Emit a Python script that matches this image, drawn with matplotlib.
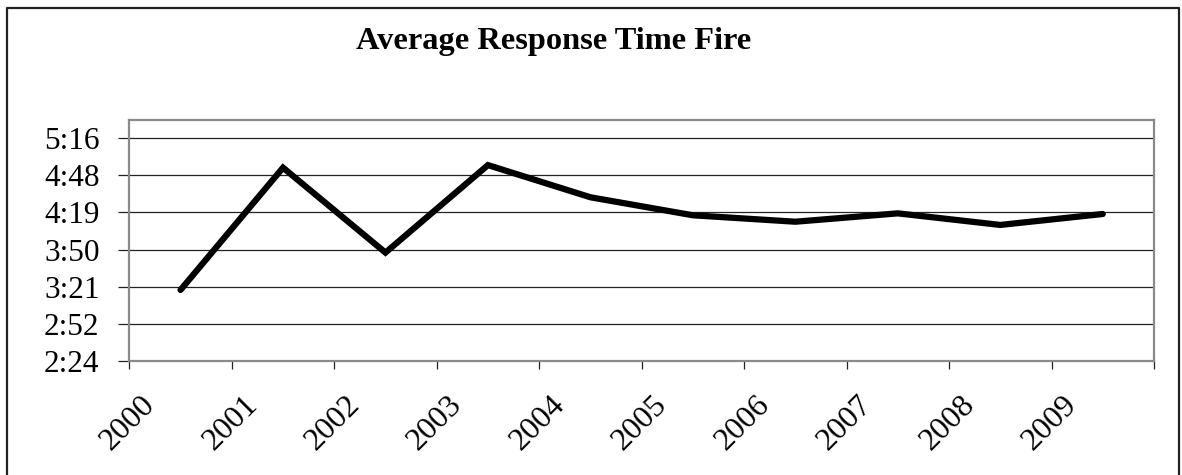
import matplotlib
matplotlib.use("Agg")
import matplotlib.pyplot as plt
import matplotlib.transforms as mtransforms
from matplotlib.lines import Line2D
from matplotlib.ticker import FixedLocator, FuncFormatter

# Average fire response time per year, in seconds
years = ["2000", "2001", "2002", "2003", "2004", "2005", "2006", "2007", "2008", "2009"]
response_seconds = [199, 294, 228, 296, 271, 257, 252, 258.5, 249.5, 258]

# Axis scale (seconds): ticks every 28.8 s starting at 2:24
y_min, y_max, y_step = 144.0, 331.2, 28.8
y_ticks = [144.0, 172.8, 201.6, 230.4, 259.2, 288.0, 316.8]

plt.rcParams["font.family"] = ["Liberation Serif", "DejaVu Serif"]

W, H, DPI = 1182, 475, 100
fig = plt.figure(figsize=(W / DPI, H / DPI), dpi=DPI)
fig.patch.set_facecolor("white")

left_px, right_px, top_px, bottom_px = 129.3, 1154.0, 119.8, 360.7
ax = fig.add_axes([left_px / W, 1 - bottom_px / H,
                   (right_px - left_px) / W, (bottom_px - top_px) / H])

n = len(years)
x = [i + 0.5 for i in range(n)]
ax.plot(x, response_seconds, color="black", lw=4.5,
        solid_capstyle="round", solid_joinstyle="miter", zorder=3)

ax.set_xlim(0, n)
ax.set_ylim(y_min, y_max)

# horizontal gridlines
ax.yaxis.set_major_locator(FixedLocator(y_ticks))
ax.grid(axis="y", color="#222222", lw=0.9)
ax.set_axisbelow(True)


def mmss(v, pos=None):
    s = int(v + 1e-6)
    return f"{s // 60}:{s % 60:02d}"


ax.yaxis.set_major_formatter(FuncFormatter(mmss))
ax.tick_params(axis="y", direction="out", length=8, width=0.9, color="#222222",
               labelsize=22.5, pad=13.5)

# category boundary ticks on x, labels drawn separately
ax.xaxis.set_major_locator(FixedLocator(list(range(n + 1))))
ax.tick_params(axis="x", direction="out", length=6, width=0.9, color="#222222",
               labelbottom=False)

for sp in ax.spines.values():
    sp.set_color("#8a8a8a")
    sp.set_linewidth(1.6)

# rotated year labels
offset = mtransforms.ScaledTranslation(-30 / DPI, -40 / DPI, fig.dpi_scale_trans)
trans = ax.get_xaxis_transform() + offset
for xi, lab in zip(x, years):
    ax.text(xi, 0, lab, transform=trans, rotation=45, rotation_mode="anchor",
            ha="right", va="center", fontsize=23)

# title
fig.text(554 / W, 1 - 42 / H, "Average Response Time Fire", ha="center",
         va="center", fontsize=23.3, fontweight="bold")

# outer chart border (left, top, right)
bx0, bx1, by0 = 6.5, 1178.5, 7.5
fig.add_artist(Line2D([bx0 / W, bx0 / W, bx1 / W, bx1 / W],
                      [-0.05, 1 - by0 / H, 1 - by0 / H, -0.05],
                      transform=fig.transFigure, color="#222222", lw=1.6))

fig.savefig("out.png", dpi=DPI)
